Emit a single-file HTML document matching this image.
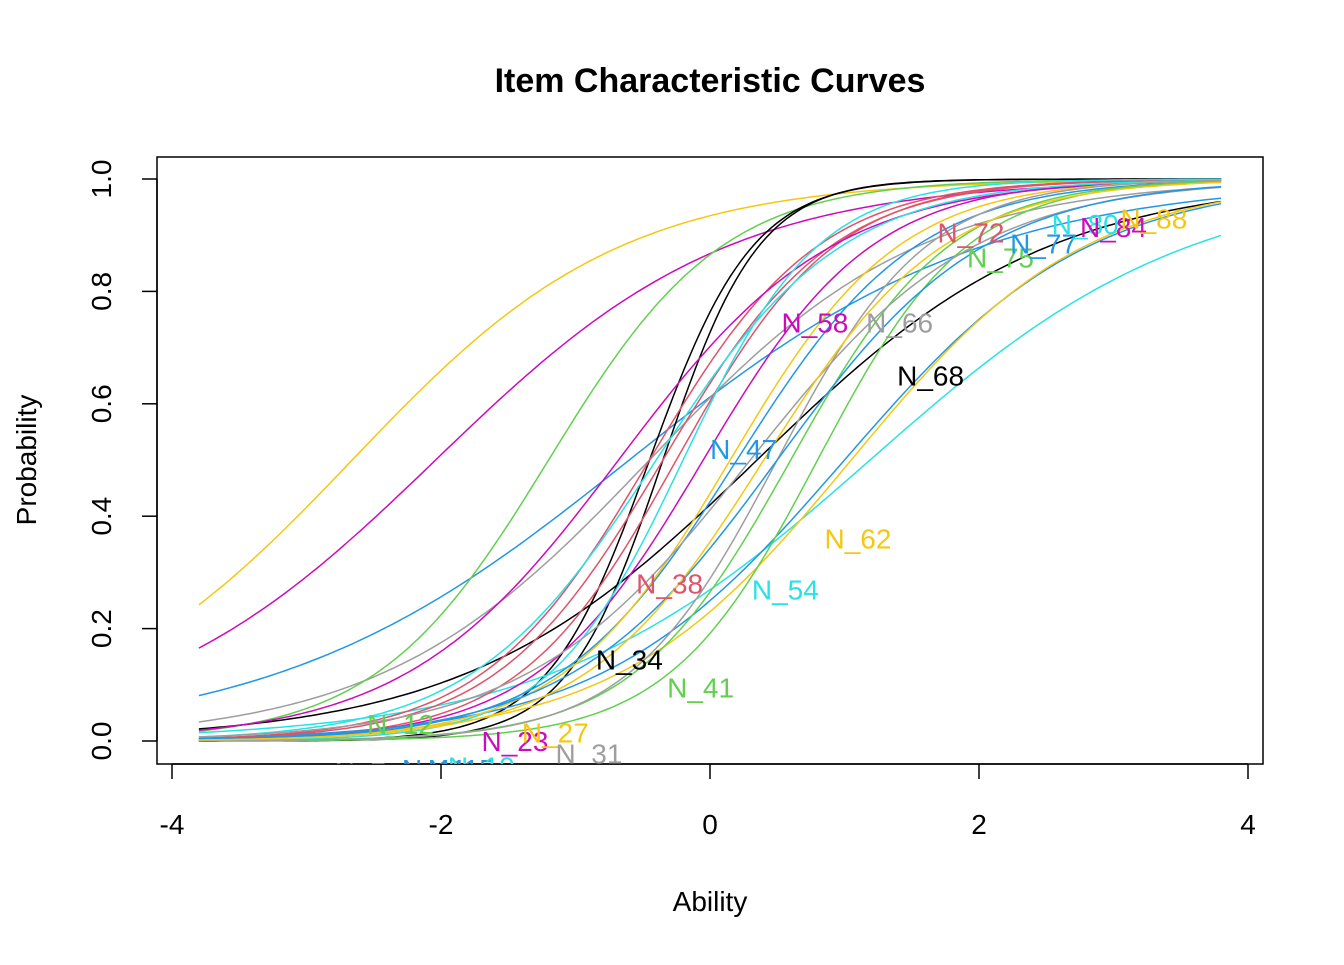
<!DOCTYPE html>
<html><head><meta charset="utf-8"><style>
body{margin:0;background:#fff}
svg text{font-family:"Liberation Sans",Arial,sans-serif}
</style></head><body>
<svg id="chart" width="1344" height="960" xmlns="http://www.w3.org/2000/svg">
<defs><clipPath id="clip"><rect x="157" y="157" width="1106" height="607"/></clipPath></defs>
<rect width="1344" height="960" fill="#fff"/>
<text x="710" y="92" text-anchor="middle" font-size="34" font-weight="bold">Item Characteristic Curves</text>
<rect x="157" y="157" width="1106" height="607" fill="none" stroke="#000" stroke-width="1.5"/>
<g id="axes"></g>
<g id="curves" clip-path="url(#clip)"></g>
<g id="labels" clip-path="url(#clip)"></g>
<text x="710" y="911" text-anchor="middle" font-size="28">Ability</text>
<text transform="translate(36,460) rotate(-90)" text-anchor="middle" font-size="28">Probability</text>
</svg>
<script>
const xTicks=[-4,-2,0,2,4];
const yTicks=[0,0.2,0.4,0.6,0.8,1.0];
const yTickLabels=["0.0","0.2","0.4","0.6","0.8","1.0"];
const palette=["#000000","#DF536B","#61D04F","#2297E6","#28E2E5","#CD0BBC","#F5C710","#9E9E9E"];
const discr=[1.0,0.92,0.76,1.0,1.55,2.6,2.8,0.92,0.84,1.1,1.15,1.6,1.6,1.7,1.26,1.6,2.0,1.45,1.5,1.6,1.7,1.8,1.8,1.2,1.3,1.5];
const diff=[-2.66,-2.04,-0.6,-0.45,-1.2,-0.45,-0.35,0.35,1.19,1.0,1.05,-0.45,-0.35,-0.25,-0.68,-0.05,-0.2,-0.4,0.2,0.15,0.6,0.8,0.5,0.3,0.5,0.4];
const colorIdx=[6,5,3,7,2,0,0,0,4,3,6,1,1,1,5,5,4,4,3,6,2,2,7,7,3,6];
const labelText=["N_3","N_7","N_11","N_12","N_15","N_19","N_23","N_27","N_31","N_34","N_38","N_41","N_47","N_54","N_58","N_62","N_66","N_68","N_72","N_75","N_77","N_80","N_84","N_88"];
const labelTheta=[-2.9,-2.6,-2.05,-2.3,-1.85,-1.7,-1.45,-1.15,-0.9,-0.6,-0.3,-0.07,0.25,0.56,0.78,1.1,1.41,1.64,1.94,2.16,2.48,2.79,3.0,3.3];
const labelProb=[-0.06,-0.055,-0.05,0.03,-0.05,-0.045,0.0,0.015,-0.022,0.145,0.28,0.095,0.52,0.27,0.745,0.36,0.745,0.65,0.905,0.86,0.885,0.92,0.915,0.93];
const labelColor=[0,1,3,2,3,4,5,6,7,0,1,2,3,4,5,6,7,0,1,2,3,4,5,6];
const X=t=>710+t*134.5;
const Y=p=>741-p*562;
const NS="http://www.w3.org/2000/svg";
const axes=document.getElementById('axes');
function mk(tag,attrs,parent){const e=document.createElementNS(NS,tag);for(const k in attrs)e.setAttribute(k,attrs[k]);parent.appendChild(e);return e;}
mk('line',{x1:X(-4),x2:X(4),y1:764,y2:764,stroke:'#000','stroke-width':1.5},axes);
xTicks.forEach(t=>{
 const l=mk('line',{x1:X(t),x2:X(t),y1:764,y2:779,stroke:'#000','stroke-width':1.5},axes);
 
 
 const tx=mk('text',{x:X(t),y:834,'text-anchor':'middle','font-size':28},axes);
 tx.textContent=String(t);
 
 
});
mk('line',{x1:157,x2:157,y1:Y(0),y2:Y(1),stroke:'#000','stroke-width':1.5},axes);
yTicks.forEach((p,i)=>{
 const l=mk('line',{x1:142,x2:157,y1:Y(p),y2:Y(p),stroke:'#000','stroke-width':1.5},axes);
 
 
 const tx=mk('text',{transform:`translate(111,${Y(p)}) rotate(-90)`,'text-anchor':'middle','font-size':28},axes);
 tx.textContent=yTickLabels[i];
 
 
});
const cg=document.getElementById('curves');
discr.forEach((a,i)=>{
 const b=diff[i];let d='';
 for(let k=0;k<=200;k++){const t=-3.8+7.6*k/200;const p=1/(1+Math.exp(-a*(t-b)));d+=(k?'L':'M')+X(t).toFixed(1)+','+Y(p).toFixed(1);}
 const path=mk('path',{d:d,fill:'none',stroke:palette[colorIdx[i]],'stroke-width':1.5},cg);
 
 
});
const lg=document.getElementById('labels');
labelText.forEach((s,i)=>{
 const tx=mk('text',{x:X(labelTheta[i]),y:Y(labelProb[i])+10,'text-anchor':'middle','font-size':28,fill:palette[labelColor[i]]},lg);
 tx.textContent=s;
 
 
});
</script>
</body></html>
